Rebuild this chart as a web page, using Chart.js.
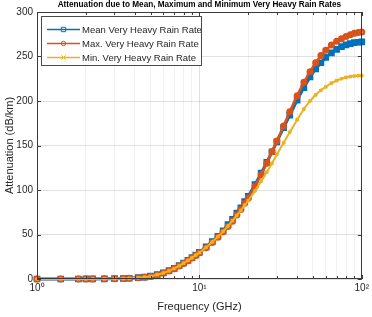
<!DOCTYPE html>
<html>
<head>
<meta charset="utf-8">
<script src="https://cdn.jsdelivr.net/npm/chart.js@4/dist/chart.umd.min.js"></script>
<style>
  body { margin: 0; background: #fff; }
  canvas { display: block; }
</style>
</head>
<body>
<canvas id="rainChart" width="372" height="317"></canvas>
<script>
// frequency points (GHz)
var freqs = [1, 1.4, 1.8, 2, 2.2, 2.6, 3, 3.4, 3.7, 4.2, 4.6, 5, 5.5, 6, 6.5, 7, 7.5, 8, 8.5, 9, 9.5, 10,
  11, 12, 13, 14, 15, 16, 17, 18, 19, 20, 22, 24, 26, 28, 30, 33, 36, 40, 44, 48, 52, 56, 60, 65, 70, 75, 80, 85, 90, 95, 100];

// attenuation in dB/km
var meanRate = [0, 0, 0, 0.05, 0.08, 0.2, 0.35, 0.6, 0.85, 1.5, 2.2, 3.2, 5, 7, 9.5, 12, 15, 18, 21, 24, 27, 30,
  36, 42, 48, 54, 61, 67, 74, 80, 87, 93, 106, 119, 131, 143, 154, 170, 184, 201, 215, 227, 236, 243, 249, 254, 258, 261, 263, 264.5, 265.5, 266, 266.5];
var maxRate = [0, 0, 0, 0.05, 0.08, 0.2, 0.35, 0.55, 0.8, 1.4, 2, 2.9, 4.6, 6.5, 9, 11.5, 14.5, 17.5, 20.5, 23.5, 26.5, 29.5,
  35, 41, 47, 53, 59, 65, 72, 78, 85, 91, 104, 117, 130, 143, 155, 172, 188, 206, 221, 233, 243, 251, 257, 263, 267, 270, 272.5, 274.5, 276, 277, 277.5];
var minRate = [0, 0, 0, 0.05, 0.08, 0.2, 0.35, 0.55, 0.8, 1.4, 2, 3, 4.8, 6.8, 9.2, 11.8, 14.8, 17.8, 20.8, 23.8, 26.8, 29.5,
  35.5, 41.5, 47.5, 53.5, 59.5, 65.5, 71.5, 77, 83, 88, 99, 110, 120, 130, 140, 153, 165, 179, 191, 200, 207, 212, 216, 220, 223, 225, 226.5, 227.5, 228, 228.5, 228.5];

var seriesNames = ["Mean Very Heavy Rain Rate", "Max. Very Heavy Rain Rate", "Min. Very Heavy Rain Rate"];
var chartTitle = 'Attenuation due to Mean, Maximum and Minimum Very Heavy Rain Rates';
var xTickLabels = {1: "10\u2070", 10: "10\u00b9", 100: "10\u00b2"};
var yTicks = [0, 50, 100, 150, 200, 250, 300];

var textColor = '#262626';
var fontFam = '"Liberation Sans", Arial, sans-serif';

function pairs(ys) {
  return freqs.map(function (f, i) { return {x: f, y: ys[i]}; });
}

function drawMarker(ctx, style, x, y, r) {
  ctx.beginPath();
  if (style === 'rect') {
    ctx.rect(x - r, y - r, 2 * r, 2 * r);
  } else if (style === 'circle') {
    ctx.arc(x, y, r, 0, Math.PI * 2);
  } else {
    ctx.moveTo(x - r, y - r); ctx.lineTo(x + r, y + r);
    ctx.moveTo(x + r, y - r); ctx.lineTo(x - r, y + r);
  }
  ctx.stroke();
}

// box round the axes, inward ticks, title and the legend, matlab style
var matlabBox = {
  id: 'matlabBox',
  afterDraw: function (chart) {
    var ctx = chart.ctx, a = chart.chartArea;
    var sx = chart.scales.x, sy = chart.scales.y;
    ctx.save();
    ctx.strokeStyle = '#3a3a3a';
    ctx.lineWidth = 1;
    ctx.strokeRect(Math.round(a.left) + 0.5, Math.round(a.top) + 0.5, Math.round(a.width) - 1, Math.round(a.height) - 1);

    ctx.beginPath();
    sx.ticks.forEach(function (t) {
      var px = Math.round(sx.getPixelForValue(t.value)) + 0.5;
      var len = xTickLabels[t.value] ? 4 : 3;
      ctx.moveTo(px, a.bottom); ctx.lineTo(px, a.bottom - len);
      ctx.moveTo(px, a.top); ctx.lineTo(px, a.top + len);
    });
    sy.ticks.forEach(function (t) {
      var py = Math.round(sy.getPixelForValue(t.value)) + 0.5;
      ctx.moveTo(a.left, py); ctx.lineTo(a.left + 4, py);
      ctx.moveTo(a.right, py); ctx.lineTo(a.right - 4, py);
    });
    ctx.stroke();

    // title, centred over the axes
    ctx.fillStyle = '#000';
    ctx.font = 'bold 8.2px ' + fontFam;
    ctx.textAlign = 'center';
    ctx.textBaseline = 'middle';
    ctx.fillText(chartTitle, (a.left + a.right) / 2, 5);

    // legend
    var lx = 41.5, ly = 16.5, lw = 160, lh = 49;
    ctx.fillStyle = '#fff';
    ctx.fillRect(lx, ly, lw, lh);
    ctx.strokeStyle = '#4a4a4a';
    ctx.strokeRect(lx, ly, lw, lh);
    ctx.font = '9.5px ' + fontFam;
    ctx.textAlign = 'left';
    chart.data.datasets.forEach(function (ds, i) {
      var yy = 29.5 + i * 14;
      ctx.strokeStyle = ds.borderColor;
      ctx.lineWidth = 1.5;
      ctx.beginPath(); ctx.moveTo(47, yy); ctx.lineTo(80, yy); ctx.stroke();
      ctx.lineWidth = 1;
      drawMarker(ctx, ds.pointStyle, 63.5, yy, 2.2);
      ctx.fillStyle = textColor;
      ctx.fillText(ds.label, 82, yy + 0.5);
    });
    ctx.restore();
  }
};

window.onload = function () {
  var ctx = document.getElementById('rainChart').getContext('2d');

  var chart = new Chart(ctx, {
    type: 'line',
    data: {
      datasets: [{
        label: seriesNames[0],
        data: pairs(meanRate),
        borderColor: '#0072BD',
        pointStyle: 'rect',
        borderWidth: 3,
        pointRadius: 2.6,
        order: 3
      }, {
        label: seriesNames[1],
        data: pairs(maxRate),
        borderColor: '#D95319',
        pointStyle: 'circle',
        borderWidth: 2.6,
        pointRadius: 2.2,
        order: 2
      }, {
        label: seriesNames[2],
        data: pairs(minRate),
        borderColor: '#EDB120',
        pointStyle: 'crossRot',
        borderWidth: 2,
        pointRadius: 2,
        order: 1
      }]
    },
    options: {
      responsive: false,
      animation: false,
      layout: { padding: { left: 0, right: 7, top: 12, bottom: 0 } },
      elements: {
        line: { tension: 0, fill: false },
        point: { borderWidth: 1, backgroundColor: 'rgba(0,0,0,0)' }
      },
      datasets: { line: { clip: 6 } },
      plugins: {
        legend: { display: false },
        tooltip: { enabled: false }
      },
      scales: {
        x: {
          type: 'logarithmic',
          min: 1,
          max: 100,
          afterBuildTicks: function (scale) {
            var t = [];
            [1, 10].forEach(function (d) {
              for (var k = 1; k < 10; k++) t.push({value: d * k});
            });
            t.push({value: 100});
            scale.ticks = t;
          },
          afterFit: function (scale) { scale.height = 38; },
          ticks: {
            autoSkip: false,
            maxRotation: 0,
            padding: 3,
            color: textColor,
            font: { family: fontFam, size: 10 },
            callback: function (v) { return xTickLabels[v] || ''; }
          },
          grid: {
            drawTicks: false,
            color: function (c) {
              return c.tick && xTickLabels[c.tick.value] ? 'rgba(0,0,0,0.12)' : 'rgba(0,0,0,0.055)';
            }
          },
          border: { display: false },
          title: {
            display: true,
            text: 'Frequency (GHz)',
            color: textColor,
            font: { family: fontFam, size: 11 },
            padding: { top: 0, bottom: 3 }
          }
        },
        y: {
          min: 0,
          max: 300,
          afterBuildTicks: function (scale) {
            scale.ticks = yTicks.map(function (v) { return {value: v}; });
          },
          afterFit: function (scale) { scale.width = 37; },
          ticks: {
            padding: 4,
            color: textColor,
            font: { family: fontFam, size: 10 }
          },
          grid: { drawTicks: false, color: 'rgba(0,0,0,0.12)' },
          border: { display: false },
          title: {
            display: true,
            text: 'Attenuation (dB/km)',
            color: textColor,
            font: { family: fontFam, size: 11 },
            padding: { top: 3, bottom: 0 }
          }
        }
      }
    },
    plugins: [matlabBox]
  });
};
</script>
</body>
</html>
